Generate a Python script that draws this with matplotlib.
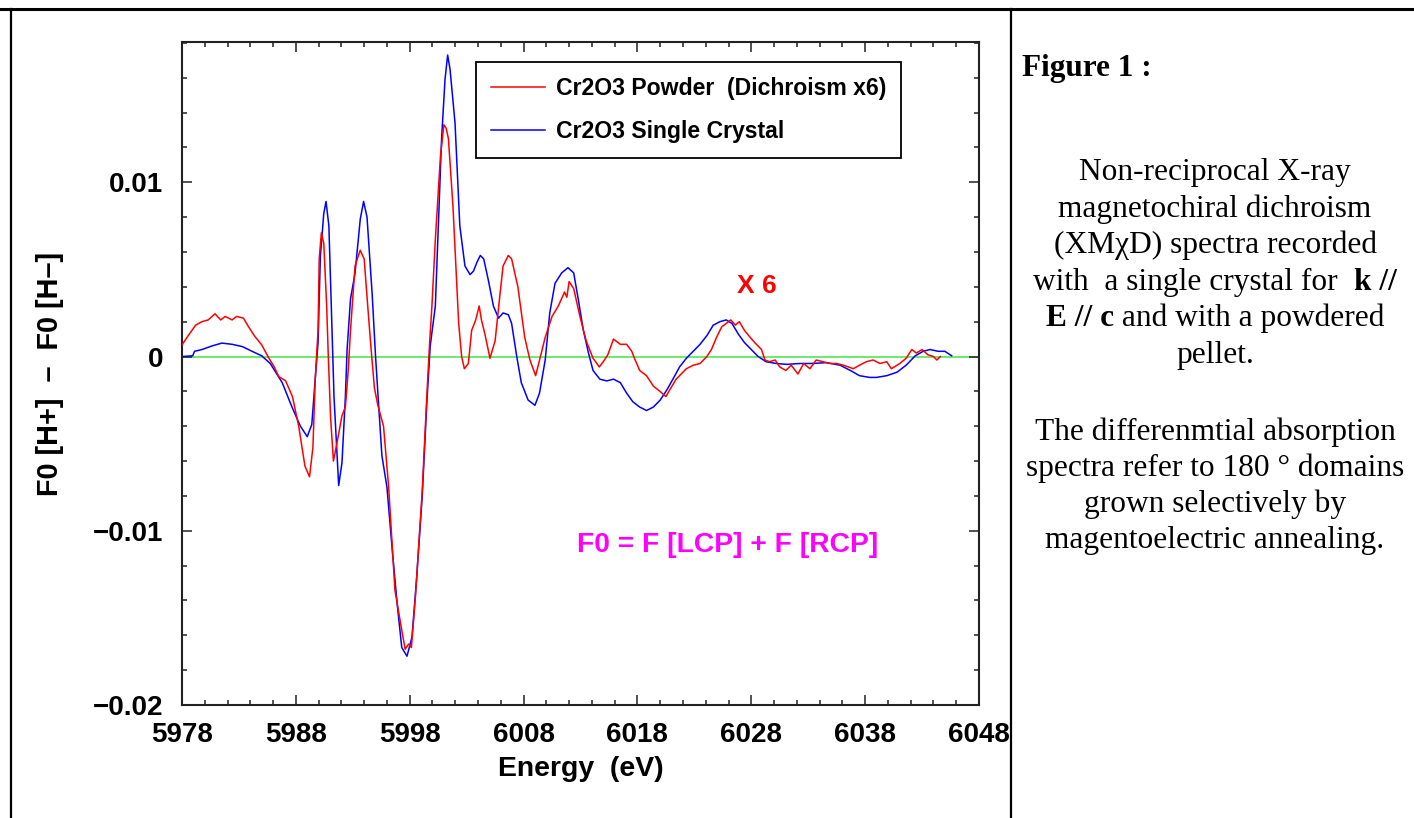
import numpy as np
import matplotlib
matplotlib.use("Agg")
import matplotlib.pyplot as plt
from matplotlib.lines import Line2D
from matplotlib.ticker import MultipleLocator


# Cr2O3 Powder (dichroism x6)
powder_energy = [
    5978.0, 5978.6, 5979.2, 5979.75, 5980.3, 5980.9, 5981.4, 5981.8, 5982.4, 5982.8,
    5983.4, 5983.85, 5984.4, 5985.0, 5985.55, 5986.1, 5986.5, 5987.1, 5987.7, 5988.25,
    5988.8, 5989.2, 5989.5, 5989.7, 5989.95, 5990.05, 5990.24, 5990.45, 5990.7, 5990.85,
    5991.05, 5991.3, 5991.6, 5992.05, 5992.35, 5992.6, 5992.8, 5993.2, 5993.65, 5994.0,
    5994.3, 5994.6, 5994.9, 5995.2, 5995.7, 5996.15, 5996.7, 5997.3, 5997.6, 5997.9,
    5998.15, 5998.5, 5999.1, 5999.5, 5999.75, 5999.95, 6000.25, 6000.7, 6001.0, 6001.2,
    6001.4, 6001.8, 6002.3, 6002.56, 6002.8, 6003.15, 6003.44, 6003.8, 6004.1, 6004.3,
    6004.6, 6005.05, 6005.5, 6005.9, 6006.2, 6006.66, 6006.95, 6007.5, 6008.1, 6008.56,
    6009.06, 6009.4, 6009.9, 6010.5, 6011.05, 6011.6, 6011.8, 6012.0, 6012.4, 6012.95,
    6013.5, 6014.1, 6014.65, 6015.0, 6015.4, 6015.9, 6016.5, 6017.05, 6017.5, 6017.8,
    6018.2, 6018.8, 6019.4, 6019.98, 6020.5, 6020.85, 6021.4, 6022.3, 6022.9, 6023.5,
    6024.1, 6024.5, 6024.95, 6025.4, 6025.8, 6026.2, 6026.6, 6026.95, 6027.4, 6027.9,
    6028.3, 6028.9, 6029.2, 6029.6, 6030.1, 6030.5, 6031.04, 6031.5, 6032.1, 6032.6,
    6033.15, 6033.7, 6034.3, 6034.9, 6035.5, 6036.1, 6036.96, 6037.5, 6038.1, 6038.7,
    6039.3, 6039.9, 6040.3, 6041.05, 6041.6, 6042.1, 6042.5, 6043.0, 6043.5, 6044.0,
    6044.3, 6044.6,
]
powder_signal = [
    0.00067, 0.00125, 0.0018, 0.0020, 0.0021, 0.00245, 0.0021, 0.0023, 0.0021, 0.0023,
    0.0022, 0.0017, 0.00115, 0.00067, 0.0, -0.0006, -0.00115, -0.0014, -0.0023, -0.0040,
    -0.0063, -0.0069, -0.0052, -0.0013, 0.0015, 0.0056, 0.0071, 0.0065, 0.0030, 0.0,
    -0.0035, -0.0060, -0.0050, -0.0034, -0.0029, -0.0008, 0.0015, 0.0052, 0.0061, 0.0056,
    0.0030, 0.0005, -0.0018, -0.0028, -0.0040, -0.0075, -0.0134, -0.0157, -0.0168, -0.0165,
    -0.0167, -0.0138, -0.0077, -0.0023, 0.0008, 0.0029, 0.0067, 0.0115, 0.0133, 0.0131,
    0.0125, 0.0086, 0.0019, 0.0, -0.0007, -0.0004, 0.0015, 0.0021, 0.0029, 0.0021,
    0.0013, -0.0001, 0.0009, 0.0034, 0.0052, 0.0058, 0.0056, 0.0040, 0.0011, -0.0002,
    -0.0011, -0.0002, 0.0011, 0.0023, 0.0029, 0.0037, 0.0034, 0.0043, 0.0039, 0.0023,
    0.0009, -0.0001, -0.0006, -0.0003, 0.0001, 0.0010, 0.0007, 0.0007, 0.0003, -0.0002,
    -0.0008, -0.0011, -0.0017, -0.0020, -0.0023, -0.0019, -0.0013, -0.0007, -0.0005, -0.0004,
    0.0, 0.0004, 0.0011, 0.0017, 0.0019, 0.0021, 0.0018, 0.0020, 0.0015, 0.0011,
    0.0008, 0.0004, -0.0002, -0.0003, -0.0002, -0.0006, -0.0008, -0.0005, -0.0010, -0.0004,
    -0.0007, -0.0002, -0.0003, -0.0004, -0.0004, -0.0005, -0.0007, -0.0005, -0.0003, -0.0002,
    -0.0004, -0.0003, -0.0007, -0.0004, -0.0001, 0.0004, 0.0002, 0.0004, 0.0001, 0.0,
    -0.0002, 0.0,
]

# Cr2O3 Single Crystal
crystal_energy = [
    5978.0, 5978.94, 5979.1, 5979.75, 5980.6, 5981.5, 5982.4, 5983.3, 5984.15, 5985.0,
    5985.75, 5986.8, 5987.66, 5988.4, 5989.0, 5989.4, 5989.7, 5989.95, 5990.15, 5990.45,
    5990.65, 5990.9, 5991.2, 5991.35, 5991.76, 5992.05, 5992.35, 5992.5, 5992.8, 5993.2,
    5993.66, 5993.95, 5994.25, 5994.7, 5995.0, 5995.3, 5995.56, 5996.0, 5996.44, 5996.9,
    5997.3, 5997.76, 5998.2, 5998.6, 5999.1, 5999.5, 5999.8, 6000.25, 6000.8, 6001.1,
    6001.33, 6001.54, 6001.98, 6002.4, 6002.85, 6003.3, 6003.6, 6003.9, 6004.2, 6004.5,
    6004.9, 6005.35, 6005.8, 6006.2, 6006.66, 6006.95, 6007.4, 6007.8, 6008.4, 6009.0,
    6009.4, 6009.9, 6010.3, 6010.76, 6011.35, 6011.9, 6012.4, 6012.8, 6013.25, 6013.7,
    6014.1, 6014.7, 6015.3, 6015.9, 6016.5, 6017.05, 6017.6, 6018.2, 6018.8, 6019.4,
    6020.0, 6020.6, 6021.2, 6021.7, 6022.3, 6022.9, 6023.5, 6024.1, 6024.66, 6025.25,
    6025.8, 6026.3, 6026.85, 6027.4, 6028.0, 6028.6, 6029.3, 6030.2, 6031.1, 6032.3,
    6033.4, 6034.6, 6035.8, 6036.7, 6037.5, 6038.4, 6039.0, 6039.9, 6040.8, 6041.6,
    6042.4, 6043.1, 6043.7, 6044.4, 6045.0, 6045.6,
]
crystal_signal = [
    0.0, 0.00004, 0.0003, 0.0004, 0.0006, 0.00077, 0.0007, 0.00057, 0.0003, 0.00004,
    -0.0004, -0.0015, -0.0029, -0.0040, -0.0046, -0.0039, -0.0013, 0.0008, 0.0057, 0.0082,
    0.0089, 0.0075, 0.0010, -0.0023, -0.0074, -0.0061, -0.0023, 0.0004, 0.0033, 0.0048,
    0.0079, 0.0089, 0.0080, 0.0036, 0.0, -0.0031, -0.0057, -0.0075, -0.0109, -0.0142,
    -0.0167, -0.0172, -0.0161, -0.0128, -0.0080, -0.0027, 0.0006, 0.0029, 0.0125, 0.0159,
    0.0173, 0.0165, 0.0134, 0.0075, 0.0052, 0.0047, 0.0049, 0.0054, 0.0058, 0.0056,
    0.0044, 0.0029, 0.0022, 0.0025, 0.0024, 0.0019, 0.0, -0.0015, -0.0025, -0.0028,
    -0.0021, -0.0002, 0.0025, 0.0042, 0.0048, 0.0051, 0.0048, 0.0033, 0.0015, 0.0002,
    -0.0008, -0.0013, -0.0014, -0.0013, -0.0015, -0.0021, -0.0026, -0.0029, -0.0031, -0.0029,
    -0.0025, -0.0019, -0.0012, -0.0006, -0.0001, 0.0003, 0.0007, 0.0012, 0.0018, 0.0020,
    0.0021, 0.0019, 0.0013, 0.0008, 0.0004, 0.0, -0.0003, -0.0004, -0.00045, -0.0004,
    -0.0004, -0.00035, -0.0005, -0.0008, -0.0011, -0.0012, -0.0012, -0.0011, -0.0009, -0.0005,
    0.00004, 0.0003, 0.0004, 0.0003, 0.0003, 0.00004,
]

series_labels = ["Cr2O3 Powder  (Dichroism x6)", "Cr2O3 Single Crystal"]
x_ticks = [5978, 5988, 5998, 6008, 6018, 6028, 6038, 6048]
y_ticks = [-0.02, -0.01, 0, 0.01]
y_tick_labels = ["\u22120.02", "\u22120.01", "0", "0.01"]

caption_lines = [
    [("Non-reciprocal X-ray", False)],
    [("magnetochiral dichroism", False)],
    [("(XM\u03c7D) spectra recorded", False)],
    [("with  a single crystal for  ", False), ("k //", True)],
    [("E // c", True), (" and with a powdered", False)],
    [("pellet.", False)],
    [("The differenmtial absorption", False)],
    [("spectra refer to 180 \u00b0 domains", False)],
    [("grown selectively by", False)],
    [("magentoelectric annealing.", False)],
]
caption_baselines = [180, 217, 253, 290, 326, 363, 440, 476, 512, 548]

W, H = 1414, 818
fig = plt.figure(figsize=(W / 100, H / 100), dpi=100)
ax = fig.add_axes([182 / W, 1 - 705 / H, (979 - 182) / W, (705 - 42) / H])

sans = "Liberation Sans"
serif = "Liberation Serif"

ax.axhline(0, color="#5fe85f", lw=1.3, zorder=1)
ax.plot(powder_energy, powder_signal, color="#ff0000", lw=1.1, label=series_labels[0], zorder=3)
ax.plot(crystal_energy, crystal_signal, color="#0000ff", lw=1.1, label=series_labels[1], zorder=2)

ax.set_xlim(5978, 6048)
ax.set_ylim(-0.02, 0.01805)
ax.set_xticks(x_ticks)
ax.set_yticks(y_ticks)
ax.set_yticklabels(y_tick_labels)
ax.xaxis.set_minor_locator(MultipleLocator(2))
ax.yaxis.set_minor_locator(MultipleLocator(0.002))
ax.tick_params(which="both", direction="in", top=True, right=True, width=1.1, colors="#222222")
ax.tick_params(which="major", length=7)
ax.tick_params(which="minor", length=3.8)
ax.tick_params(axis="x", which="major", pad=12)
ax.tick_params(axis="y", which="major", pad=13.5)
for lab in ax.get_xticklabels() + ax.get_yticklabels():
    lab.set_fontfamily(sans)
    lab.set_fontweight("bold")
    lab.set_fontsize(20)
    lab.set_color("black")
for sp in ax.spines.values():
    sp.set_linewidth(1.5)
    sp.set_color("#222222")

ax.set_xlabel("Energy  (eV)", fontfamily=sans, fontweight="bold", fontsize=20.4, labelpad=6)
ax.set_ylabel("F0 [H+]  \u2013  F0 [H\u2013]", fontfamily=sans, fontweight="bold", fontsize=20.8, labelpad=21)

leg = ax.legend(loc="upper left", bbox_to_anchor=(0.369, 0.970), borderaxespad=0,
                prop=dict(family=sans, weight="bold", size=16.6),
                handlelength=2.35, handletextpad=0.45, labelspacing=0.87, borderpad=0.66,
                fancybox=False, framealpha=1, edgecolor="black")
leg.get_frame().set_linewidth(1.3)

ax.text(6028.5, 0.00405, "X 6", color="#ff0000", fontfamily=sans, fontweight="bold",
        fontsize=19, ha="center", va="center")
ax.text(6025.9, -0.01083, "F0 = F [LCP] + F [RCP]", color="#ff00ff", fontfamily=sans,
        fontweight="bold", fontsize=20.3, ha="center", va="center")

# page frame: top rule, left rule and column divider
fig.add_artist(Line2D([0, 1], [1 - 9 / H, 1 - 9 / H], transform=fig.transFigure, color="black", lw=2.2))
fig.add_artist(Line2D([11 / W, 11 / W], [0, 1 - 9 / H], transform=fig.transFigure, color="black", lw=1.6))
fig.add_artist(Line2D([1011 / W, 1011 / W], [0, 1 - 9 / H], transform=fig.transFigure, color="black", lw=1.6))

fig.text(1022 / W, 1 - 76 / H, "Figure 1 :", fontfamily=serif, fontweight="bold", fontsize=22.5,
         ha="left", va="baseline")

renderer = fig.canvas.get_renderer()
cx = 1215
for parts, base in zip(caption_lines, caption_baselines):
    texts = []
    for s, bold in parts:
        t = fig.text(0, 1 - base / H, s, fontfamily=serif, fontsize=22.6,
                     fontweight="bold" if bold else "normal", ha="left", va="baseline")
        texts.append(t)
    widths = [t.get_window_extent(renderer).width for t in texts]
    x0 = cx - sum(widths) / 2
    for t, w in zip(texts, widths):
        t.set_x(x0 / W)
        x0 += w

fig.savefig("out.png", dpi=100)
